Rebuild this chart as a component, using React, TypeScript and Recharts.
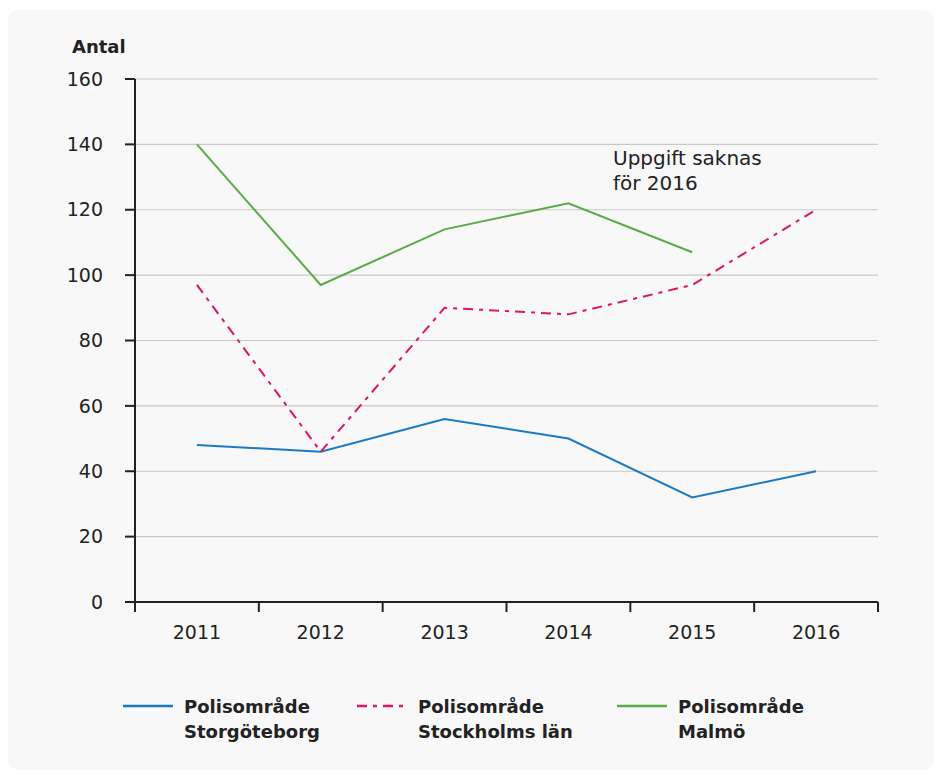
import { CartesianGrid, Line, LineChart, XAxis, YAxis } from "recharts";

const years = ["2011", "2012", "2013", "2014", "2015", "2016"];
const storgoteborg = [48, 46, 56, 50, 32, 40];
const stockholm = [97, 46, 90, 88, 97, 120];
const malmo: (number | null)[] = [140, 97, 114, 122, 107, null];
const yTicks = [0, 20, 40, 60, 80, 100, 120, 140, 160];
const xBounds = [0, 1, 2, 3, 4, 5, 6];

const BLUE = "#1a7bc4";
const PINK = "#e0126c";
const GREEN = "#5aab48";
const FONT = "'DejaVu Sans', sans-serif";

const W = 926;
const M_LEFT = 127;
const M_RIGHT = 56;
const HALF_BAND = (W - M_LEFT - M_RIGHT) / years.length / 2;

// points sit in the middle of each year slot
const data = years.map((y, i) => ({
  x: i + 0.5,
  gbg: storgoteborg[i],
  sthlm: stockholm[i],
  malmo: malmo[i],
}));

const legendItems = [
  { color: BLUE, dash: undefined, lines: ["Polisområde", "Storgöteborg"], x: 115 },
  { color: PINK, dash: "10 6 4 6", lines: ["Polisområde", "Stockholms län"], x: 349 },
  { color: GREEN, dash: undefined, lines: ["Polisområde", "Malmö"], x: 609 },
];

function YearTick(props: any) {
  const { x, y, payload } = props;
  const label = years[payload.value];
  if (!label) return null;
  return (
    <text
      x={x + HALF_BAND}
      y={y}
      dy={23}
      textAnchor="middle"
      fill="#222"
      fontSize={19}
      fontFamily={FONT}
    >
      {label}
    </text>
  );
}

export default function App() {
  return (
    <div
      style={{
        position: "relative",
        width: W,
        height: 760,
        marginTop: 2,
        background: "#f8f8f8",
        borderRadius: 10,
        fontFamily: FONT,
        color: "#222",
      }}
    >
      <div
        style={{
          position: "absolute",
          left: 64,
          top: 26,
          fontSize: 18,
          fontWeight: 700,
        }}
      >
        Antal
      </div>
      <LineChart
        width={W}
        height={660}
        data={data}
        margin={{ top: 69, right: M_RIGHT, bottom: 0, left: 0 }}
      >
        <CartesianGrid vertical={false} stroke="#c8c8c8" strokeWidth={1.2} />
        <XAxis
          dataKey="x"
          type="number"
          domain={[0, 6]}
          ticks={xBounds}
          interval={0}
          stroke="#222"
          strokeWidth={2}
          tickSize={10}
          tickMargin={4}
          height={68}
          tick={<YearTick />}
          tickLine={{ stroke: "#222", strokeWidth: 2 }}
        />
        <YAxis
          domain={[0, 160]}
          ticks={yTicks}
          interval={0}
          stroke="#222"
          strokeWidth={2}
          width={M_LEFT}
          tickSize={10}
          tickMargin={22}
          tick={{ fill: "#222", fontSize: 19, fontFamily: FONT }}
          tickLine={{ stroke: "#222", strokeWidth: 2 }}
        />
        <Line
          dataKey="gbg"
          stroke={BLUE}
          strokeWidth={2}
          dot={false}
          isAnimationActive={false}
        />
        <Line
          dataKey="sthlm"
          stroke={PINK}
          strokeWidth={2}
          strokeDasharray="10 6 4 6"
          dot={false}
          isAnimationActive={false}
        />
        <Line
          dataKey="malmo"
          stroke={GREEN}
          strokeWidth={2}
          dot={false}
          isAnimationActive={false}
        />
      </LineChart>
      <div
        style={{
          position: "absolute",
          left: 605,
          top: 136,
          fontSize: 20,
          lineHeight: "25px",
        }}
      >
        Uppgift saknas
        <br />
        för 2016
      </div>
      {legendItems.map((it) => (
        <div
          key={it.lines[1]}
          style={{ position: "absolute", left: it.x, top: 684, display: "flex" }}
        >
          <svg width={50} height={26} style={{ marginRight: 11 }}>
            <line
              x1={0}
              x2={50}
              y1={12}
              y2={12}
              stroke={it.color}
              strokeWidth={2.5}
              strokeDasharray={it.dash}
            />
          </svg>
          <div style={{ fontSize: 18, fontWeight: 700, lineHeight: "25px" }}>
            {it.lines[0]}
            <br />
            {it.lines[1]}
          </div>
        </div>
      ))}
    </div>
  );
}
